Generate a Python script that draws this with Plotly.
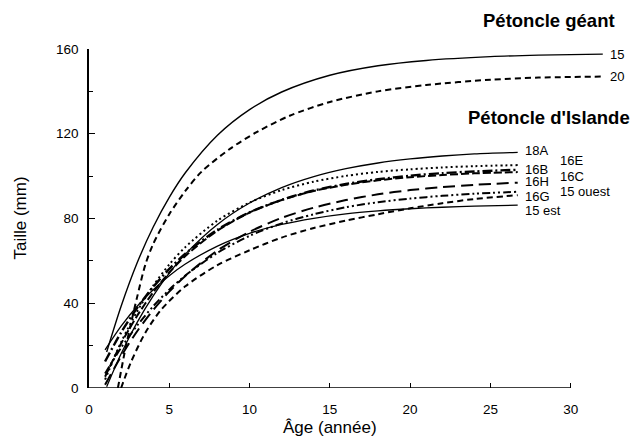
import plotly.graph_objects as go

# ---------------- data ----------------
# Pétoncle géant
x_g15 = [1.1, 2, 3, 4, 5, 6, 8, 10, 12, 15, 18, 21, 25, 28, 32]
y_g15 = [17, 38.6, 59.1, 76.0, 90.0, 101.6, 119.3, 131.4, 139.7, 147.6, 152.1, 154.6, 156.4, 157.1, 157.6]
x_g20 = [1.8, 2.2, 2.6, 3, 3.5, 4, 5, 6, 7, 8.8, 10.5, 12.5, 15, 18, 21, 25, 28, 32]
y_g20 = [0, 16, 30, 43, 58, 68, 82, 93, 102, 113, 121, 128.5, 135, 140, 143, 145.5, 146.5, 147]

# Pétoncle d'Islande
ages = [1, 2, 3, 4, 5, 6, 8, 10, 12, 14, 16, 18, 20, 22, 24, 26.7]
x_18A = [1.1, 2, 3, 4, 5, 6, 8, 10, 12, 14, 16, 18, 20, 22, 24, 26.7]
y_18A = [0.6, 16.2, 31.0, 43.5, 54.2, 63.2, 77.2, 87.3, 94.6, 99.8, 103.5, 106.2, 108.1, 109.5, 110.5, 111.2]
y_16E = [4.0, 21.6, 36.2, 48.3, 58.3, 66.5, 79.0, 87.5, 93.4, 97.4, 100.1, 102.0, 103.2, 104.1, 104.7, 105.2]
y_16B = [12.5, 26.2, 37.8, 47.7, 56.2, 63.4, 74.7, 82.9, 88.8, 93.2, 96.3, 98.5, 100.2, 101.4, 102.2, 103.0]
y_16C = [5.3, 21.0, 34.1, 45.2, 54.5, 62.3, 74.3, 82.8, 88.7, 93.0, 95.9, 98.0, 99.5, 100.5, 101.3, 101.9]
y_16H = [1.5, 15.0, 26.8, 36.8, 45.5, 52.9, 64.9, 73.7, 80.3, 85.1, 88.7, 91.4, 93.4, 94.8, 95.9, 96.9]
y_15o = [6.8, 19.0, 29.5, 38.6, 46.4, 53.1, 63.8, 71.8, 77.7, 82.0, 85.3, 87.7, 89.4, 90.7, 91.7, 92.6]
x_16G = [2.0, 2.6, 3.5, 4.5, 6, 8, 10, 12, 14, 16, 18, 20, 22, 24, 26.7]
y_16G = [0, 12, 26, 37, 48, 58, 65, 71, 75.5, 79, 82, 84.8, 87.2, 89.2, 91.0]
y_15e = [18.0, 29.2, 38.6, 46.4, 53.0, 58.5, 67.0, 73.0, 77.2, 80.1, 82.2, 83.6, 84.6, 85.3, 85.8, 86.3]

x_ticks = [0, 5, 10, 15, 20, 25, 30]
y_ticks = [0, 40, 80, 120, 160]
y_minor = [20, 60, 100, 140]

FONT = "Liberation Sans, Arial, sans-serif"

# (name, x, y, dash, width, label column, label yshift px)
series = [
    ("15", x_g15, y_g15, "solid", 1.4, 0, 0),
    ("20", x_g20, y_g20, "6px,4px", 2.0, 0, 0),
    ("18A", x_18A, y_18A, "solid", 1.3, 0, 1.5),
    ("16E", ages, y_16E, "2px,3px", 2.0, 1, 5),
    ("16B", ages, y_16B, "10px,3px,2px,3px", 2.4, 0, 0.5),
    ("16C", ages, y_16C, "8px,3px", 2.0, 1, -4),
    ("16H", ages, y_16H, "12px,6px", 2.0, 0, 1.0),
    ("15 ouest", ages, y_15o, "8px,3px,2px,3px,2px,3px", 2.0, 1, 0),
    ("16G", x_16G, y_16G, "6px,4px", 2.0, 0, -1.8),
    ("15 est", ages, y_15e, "solid", 1.3, 0, -5.2),
]

fig = go.Figure()
ann = []
for name, xs, ys, dash, w, col, ysh in series:
    fig.add_trace(go.Scatter(
        x=xs, y=ys, mode="lines", name=name,
        line=dict(color="black", width=w, dash=dash, shape="spline", smoothing=0.8),
        showlegend=False, hoverinfo="skip"))
    ann.append(dict(x=xs[-1], y=ys[-1], xref="x", yref="y", text=name,
                    showarrow=False, xanchor="left", yanchor="middle",
                    xshift=5 + 35 * col, yshift=ysh,
                    font=dict(family=FONT, size=13, color="black")))

ann += [
    dict(x=28.66, y=1 + 28 / 339, xref="x", yref="paper", text="<b>Pétoncle géant</b>",
         showarrow=False, xanchor="center", yanchor="middle",
         font=dict(family=FONT, size=18.5, color="black")),
    dict(x=28.66, y=127.5, xref="x", yref="y", text="<b>Pétoncle d'Islande</b>",
         showarrow=False, xanchor="center", yanchor="middle",
         font=dict(family=FONT, size=18.5, color="black")),
    dict(x=15, y=0, xref="x", yref="y", text="Âge (année)", showarrow=False,
         xanchor="center", yanchor="middle", yshift=-39,
         font=dict(family=FONT, size=17, color="black")),
    dict(x=0, y=80, xref="paper", yref="y", text="Taille (mm)", showarrow=False,
         xanchor="center", yanchor="middle", xshift=-69, textangle=-90,
         font=dict(family=FONT, size=17, color="black")),
]

fig.add_shape(type="line", x0=0, x1=30, y0=0, y1=0, xref="x", yref="y",
              line=dict(color="black", width=1.5))

fig.update_layout(
    width=637, height=444,
    margin=dict(l=89, r=31, t=49, b=56),
    paper_bgcolor="white", plot_bgcolor="white",
    annotations=ann,
    xaxis=dict(range=[0, 32.2], showline=False, showgrid=False, zeroline=False,
               tickvals=x_ticks, ticktext=[str(v) for v in x_ticks],
               ticks="inside", ticklen=5, tickwidth=1.3, tickcolor="black",
               ticklabelstandoff=11,
               tickfont=dict(family=FONT, size=13.5, color="black")),
    yaxis=dict(range=[0, 160], showline=True, linecolor="black", linewidth=1.5,
               showgrid=False, zeroline=False,
               tickvals=y_ticks, ticktext=[str(v) for v in y_ticks],
               ticks="inside", ticklen=6, tickwidth=1.3, tickcolor="black",
               ticklabelstandoff=6,
               minor=dict(tickvals=y_minor, ticks="inside", ticklen=4,
                          tickwidth=1.3, tickcolor="black", showgrid=False),
               tickfont=dict(family=FONT, size=13.5, color="black")),
)

fig.write_html("out.html")
